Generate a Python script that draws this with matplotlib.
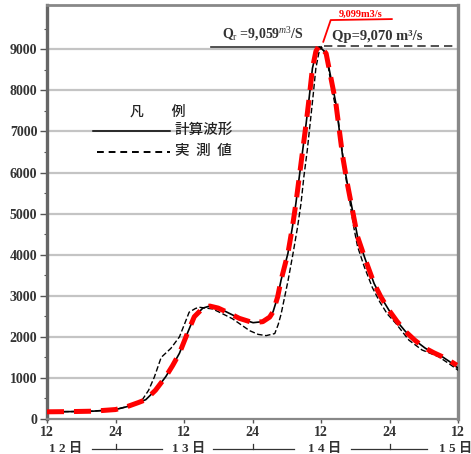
"""Flood hydrograph: computed vs observed discharge, 12th-15th."""
import matplotlib.pyplot as plt
import numpy as np

plt.rcParams["mathtext.fontset"] = "custom"
plt.rcParams["mathtext.rm"] = "Liberation Serif"
plt.rcParams["mathtext.it"] = "Liberation Serif:italic"

SERIF = ["Liberation Serif", "Noto Sans CJK JP"]
CJK = ["Noto Sans CJK JP", "DejaVu Sans"]

# hours counted from noon of the 12th
calc_hours = [0, 4, 8, 12, 14, 16, 17.3, 19, 20.8, 22, 23.2, 24.6, 25.8, 27.3, 28.5,
              30, 31.4, 33.7, 36.1, 37.8, 39, 39.6, 40.4, 41.0, 42.2, 43.0, 43.6,
              44.2, 44.8, 45.4, 45.95, 46.5, 47.1, 47.7, 48.3, 48.9, 49.7, 50.6,
              51.2, 51.8, 52.6, 53.5, 54.4, 55.8, 57.3, 58.5, 59.9, 61.3, 62.8,
              64.5, 66.3, 67.8, 69.2, 70.5, 72]
calc_flow = [175, 180, 190, 230, 300, 400, 470, 700, 1030, 1300, 1600, 2090, 2490,
             2700, 2750, 2700, 2610, 2450, 2345, 2370, 2480, 2610, 2970, 3380, 4030,
             4680, 5250, 5900, 6550, 7200, 7850, 8540, 8900, 9059, 8990, 8900, 8330,
             7690, 7040, 6390, 5740, 5090, 4440, 3870, 3300, 2970, 2650, 2380, 2130,
             1910, 1720, 1610, 1520, 1400, 1240]

recalc_hours = [0, 4, 8, 12, 14, 16, 17.3, 19, 20.8, 22, 23.2, 24.6, 25.8, 27.3, 28.5,
                30, 31.4, 33.7, 36.1, 37.8, 39, 39.6, 40.4, 41.0, 42.2, 43.0, 43.6,
                44.2, 44.8, 45.4, 45.95, 46.5, 47.1, 47.7, 48.3, 48.9, 49.7, 50.6,
                51.2, 51.8, 52.6, 53.5, 54.4, 55.8, 57.3, 58.5, 59.9, 61.3, 62.8,
                64.5, 66.3, 67.8, 69.2, 70.5, 71.8]
recalc_flow = [175, 180, 190, 230, 300, 400, 470, 700, 1030, 1300, 1600, 2090, 2490,
               2700, 2750, 2700, 2610, 2450, 2345, 2370, 2480, 2610, 2970, 3380, 4030,
               4680, 5250, 5900, 6550, 7200, 7850, 8540, 8950, 9099, 9000, 8900, 8330,
               7690, 7040, 6390, 5740, 5090, 4440, 3870, 3300, 2970, 2650, 2380, 2130,
               1910, 1720, 1610, 1520, 1420, 1310]

obs_hours = [0, 4, 8, 12, 14, 15.5, 16.7, 17.8, 18.8, 20.0, 21.7, 23.2, 24.2, 24.9,
             26.0, 26.7, 29.0, 30.5, 32.5, 35.5, 37, 38.4, 39.9, 40.5, 41.0, 42.2,
             43.1, 43.9, 44.5, 45.0, 45.6, 46.1, 46.6, 47.1, 47.6, 48.0, 48.6, 49.3,
             50.1, 51.0, 51.6, 52.2, 53.0, 53.7, 54.4, 55.6, 57.0, 58.3, 59.6, 61.1,
             63.4, 65.7, 68.6, 70.5, 72.4]
obs_flow = [175, 180, 190, 230, 300, 380, 470, 700, 1020, 1500, 1720, 2000, 2350, 2600,
            2690, 2720, 2680, 2580, 2440, 2150, 2060, 2030, 2080, 2300, 2550, 3350,
            4030, 4680, 5250, 5900, 6550, 7200, 7850, 8540, 8900, 9070, 8950, 8550,
            7900, 7300, 6650, 6000, 5350, 4700, 4200, 3700, 3200, 2850, 2560, 2330,
            1920, 1680, 1517, 1340, 1150]

y_ticks = list(range(0, 10000, 1000))
x_ticks = [0, 12, 24, 36, 48, 60, 72]
x_labels = ["12", "24", "12", "24", "12", "24", "12"]
day_labels = ["1 2 日", "1 3 日", "1 4 日", "1 5 日"]
day_pos = [3.2, 24.8, 48.7, 71.5]
day_bounds = [12, 36, 60]
day_spans = [(7.9, 20.1), (29.1, 43.3), (53.3, 66.6)]

qr_value = 9059
qp_value = 9070

fig = plt.figure(figsize=(4.71, 4.54), dpi=100)
ax = fig.add_axes([0.0998, 0.0771, 0.8726, 0.9119])
ax.set_xlim(0, 72)
ax.set_ylim(0, 10080)

for v in y_ticks[1:]:
    ax.axhline(v, color="#c4c4c4", lw=1.6, zorder=0)

ax.plot(calc_hours, calc_flow, color="black", lw=1.2, zorder=3)
ax.plot(obs_hours, obs_flow, color="black", lw=1.0, dashes=(4, 1.8), zorder=3)
ax.plot(recalc_hours, recalc_flow, color="#ff0000", lw=3.6, dashes=(3.4, 2.0),
        dash_capstyle="butt", zorder=4)

# peak reference lines
ax.plot([28.8, 47.7], [qr_value, qr_value], color="#333333", lw=1.2, zorder=2)
ax.plot([48.5, 72], [qp_value, qp_value], color="#333333", lw=1.2,
        dashes=(5, 3), zorder=2)
ax.text(30.6, 9160, r"Q$_{\rm r}$ =9,059$^{m}$$^{\!3}$/S", fontsize=10,
        family=SERIF, fontweight="bold", color="#333333", va="bottom")
ax.text(50.0, 9160, "Qp=9,070 m³/s", fontsize=10.5, family=SERIF,
        fontweight="bold", color="#333333", va="bottom")

# red peak callout
ax.plot([48.4, 49.7, 60.4], [9185, 9713, 9737], color="#ff0000", lw=1.3, zorder=5,
        clip_on=False)
ax.text(55.0, 9745, "9,099m3/s", fontsize=7.5, family=SERIF, fontweight="bold",
        color="#ff0000", ha="center", va="bottom")

# legend
ax.text(0.27, 0.742, "凡　　例", transform=ax.transAxes, fontsize=10, family=CJK,
        fontweight="medium", ha="center", va="center", color="#222222")
ax.plot([0.112, 0.299], [0.6957, 0.6957], transform=ax.transAxes, color="black",
        lw=1.1)
ax.text(0.311, 0.699, "計算波形", transform=ax.transAxes, fontsize=10.5, family=CJK,
        fontweight="medium", ha="left", va="center", color="#222222")
ax.plot([0.122, 0.299], [0.6457, 0.6457], transform=ax.transAxes, color="black",
        lw=1.4, dashes=(3.5, 2.5))
ax.text(0.311, 0.647, "実  測  値", transform=ax.transAxes, fontsize=10.5,
        family=CJK, fontweight="medium", ha="left", va="center", color="#222222")

ax.set_yticks(y_ticks)
ax.set_yticklabels([str(v) for v in y_ticks], family=SERIF, fontweight="bold",
                   fontsize=10, color="#333333")
ax.set_yticks(np.arange(500, 10000, 1000), minor=True)
ax.set_xticks(x_ticks)
ax.set_xticklabels(x_labels, family=SERIF, fontweight="bold", fontsize=10,
                   color="#333333")
ax.tick_params(axis="y", which="major", length=5, width=1.0, color="#555555", pad=2)
ax.tick_params(axis="y", which="minor", length=2.5, width=0.8, color="#555555")
ax.tick_params(axis="x", length=3, width=1.0, color="#555555", pad=2)

for side, w, c in [("left", 2.4, "#666666"), ("right", 2.4, "#888888"),
                   ("top", 2.0, "#888888"), ("bottom", 1.6, "#888888")]:
    ax.spines[side].set_linewidth(w)
    ax.spines[side].set_color(c)

# day labels under the hour axis
trans = ax.get_xaxis_transform()
for lab, pos in zip(day_labels, day_pos):
    ax.text(pos, -0.073, lab, transform=trans, fontsize=9.5, family=SERIF,
            fontweight="bold", ha="center", va="center", color="#333333",
            clip_on=False)
for b, (x0, x1) in zip(day_bounds, day_spans):
    ax.plot([x0, x1], [-0.073, -0.073], transform=trans, color="#333333", lw=0.9,
            clip_on=False)
    ax.plot([b, b], [-0.073, -0.06], transform=trans, color="#333333", lw=0.9,
            clip_on=False)

fig.savefig("out.png", dpi=100)
